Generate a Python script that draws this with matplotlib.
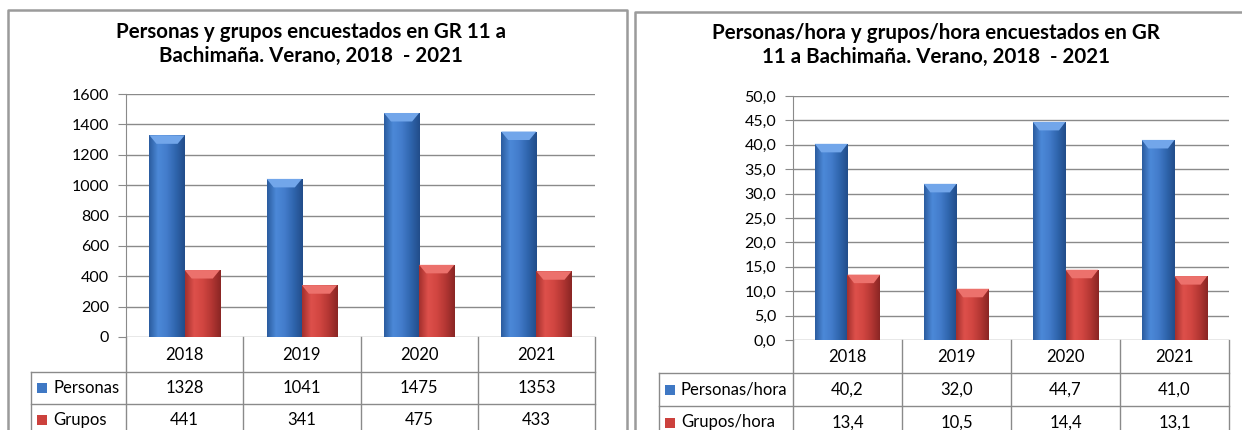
import matplotlib.pyplot as plt
import numpy as np
from matplotlib.colors import LinearSegmentedColormap
from matplotlib.patches import Rectangle, Polygon
from matplotlib.lines import Line2D
from matplotlib.ticker import FuncFormatter
from matplotlib.transforms import blended_transform_factory

# datos
years = ['2018', '2019', '2020', '2021']
personas = [1328, 1041, 1475, 1353]
grupos = [441, 341, 475, 433]
personas_hora = [40.2, 32.0, 44.7, 41.0]
grupos_hora = [13.4, 10.5, 14.4, 13.1]

title_left = 'Personas y grupos encuestados en GR 11 a\nBachimaña. Verano, 2018  - 2021'
title_right = 'Personas/hora y grupos/hora encuestados en GR\n11 a Bachimaña. Verano, 2018  - 2021'

plt.rcParams['font.family'] = ['Lato', 'DejaVu Sans']

W, H = 1242, 430
GRID = '#8a8a8a'
fig = plt.figure(figsize=(W / 100, H / 100), dpi=100)


def px_rect(x0, y0, x1, y1):
    return [x0 / W, 1 - y1 / H, (x1 - x0) / W, (y1 - y0) / H]


blue_cmap = LinearSegmentedColormap.from_list(
    'azul', ['#2b5c9f', '#4c89d8', '#437ccb', '#2f65ad', '#224d8a'])
red_cmap = LinearSegmentedColormap.from_list(
    'rojo', ['#a3302d', '#de504b', '#d14641', '#b33633', '#8a2624'])


def cylinder_bars(ax, bars, cmap, cap_color, ymax):
    grad = np.linspace(0, 1, 64).reshape(1, -1)
    for b in bars:
        x0, w, h = b.get_x(), b.get_width(), b.get_height()
        im = ax.imshow(grad, extent=[x0, x0 + w, 0, h], cmap=cmap,
                       aspect='auto', interpolation='bicubic', zorder=3)
        im.set_clip_path(b)
        d = ymax * 0.035
        ins = w * 0.2
        ax.add_patch(Polygon([(x0, h), (x0 + w, h), (x0 + w - ins, h - d),
                              (x0 + ins, h - d)], closed=True,
                             facecolor=cap_color, edgecolor='none', zorder=4))


def panel(rect, s1, s2, labels, ymax, step, fmt, lab_frac, row_px,
          table_fmt):
    ax = fig.add_axes(rect)
    x = np.arange(len(years))
    w = 0.3
    b1 = ax.bar(x - w / 2, s1, w, facecolor='none', edgecolor='none', zorder=3)
    b2 = ax.bar(x + w / 2, s2, w, facecolor='none', edgecolor='none', zorder=3)
    cylinder_bars(ax, b1, blue_cmap, '#72a6ea', ymax)
    cylinder_bars(ax, b2, red_cmap, '#ec716c', ymax)
    ax.set_xlim(-0.5, len(years) - 0.5)
    ax.set_ylim(0, ymax)
    ax.set_yticks(np.arange(0, ymax + step / 2, step))
    ax.yaxis.set_major_formatter(FuncFormatter(fmt))
    ax.set_xticks([])
    ax.grid(axis='y', color=GRID, lw=1)
    ax.set_axisbelow(True)
    for sp in ['top', 'right', 'bottom']:
        ax.spines[sp].set_visible(False)
    ax.spines['left'].set_color(GRID)
    ax.tick_params(axis='y', length=6, color=GRID, labelsize=11.5, pad=6)

    # tabla de datos
    ax_h = rect[3] * H
    hdr = row_px[0] / ax_h
    r = row_px[1] / ax_h
    tr = blended_transform_factory(ax.transData, ax.transAxes)
    y_hdr = -hdr
    y_r1 = -hdr - r
    y_r2 = -hdr - 2 * r
    kw = dict(color=GRID, lw=1, clip_on=False)
    for xb in np.arange(-0.5, len(years), 1.0):
        ax.add_line(Line2D([xb, xb], [0, y_r2], transform=tr, **kw))
    ax.add_line(Line2D([lab_frac, lab_frac], [y_hdr, y_r2],
                       transform=ax.transAxes, **kw))
    for yy in [y_hdr, y_r1, y_r2]:
        ax.add_line(Line2D([lab_frac, 1], [yy, yy],
                           transform=ax.transAxes, **kw))
    for i, yr in enumerate(years):
        ax.text(i, -hdr / 2, yr, transform=tr, ha='center', va='center',
                fontsize=12)
        ax.text(i, y_hdr - r / 2, table_fmt(s1[i]), transform=tr,
                ha='center', va='center', fontsize=12)
        ax.text(i, y_r1 - r / 2, table_fmt(s2[i]), transform=tr,
                ha='center', va='center', fontsize=12)
    ax_w = rect[2] * W
    sq_w = 10 / ax_w
    sq_h = 10 / ax_h
    for k, (lab, c, ytop) in enumerate(zip(labels, ['#3f78c4', '#cc413d'],
                                           [y_hdr, y_r1])):
        yc = ytop - r / 2
        ax.add_patch(Rectangle((lab_frac + 6 / ax_w, yc - sq_h / 2), sq_w, sq_h,
                               transform=ax.transAxes, facecolor=c,
                               edgecolor='none', clip_on=False))
        ax.text(lab_frac + 22 / ax_w, yc, lab, transform=ax.transAxes,
                ha='left', va='center', fontsize=12)
    return ax


panel(px_rect(126, 94, 595, 337), personas, grupos, ['Personas', 'Grupos'],
      1600, 200, lambda v, p: f'{v:.0f}', (31 - 126) / (595 - 126),
      [35, 32], lambda v: f'{v}')
panel(px_rect(793, 96, 1229, 340), personas_hora, grupos_hora,
      ['Personas/hora', 'Grupos/hora'], 50, 5,
      lambda v, p: f'{v:.1f}'.replace('.', ','), (659 - 793) / (1229 - 793),
      [33, 33], lambda v: f'{v:.1f}'.replace('.', ','))

fig.text(311 / W, 1 - 44 / H, title_left, ha='center', va='center',
         fontsize=14.8, fontweight='bold', linespacing=1.2)
fig.text(936 / W, 1 - 45 / H, title_right, ha='center', va='center',
         fontsize=14.8, fontweight='bold', linespacing=1.2)

# marcos de los gráficos
bk = dict(color='#9b9b9b', lw=1.8, transform=fig.transFigure)
fig.add_artist(Line2D([8 / W, 8 / W, 627 / W, 627 / W],
                      [0, 1 - 10 / H, 1 - 10 / H, 0], **bk))
fig.add_artist(Line2D([635 / W, 635 / W, 1], [0, 1 - 12 / H, 1 - 12 / H], **bk))

fig.savefig('out.png', dpi=100)
